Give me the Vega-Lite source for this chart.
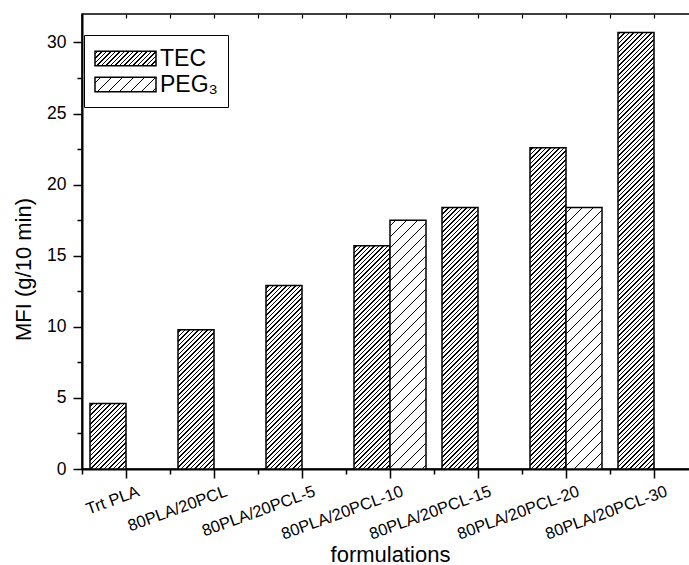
{
  "$schema": "https://vega.github.io/schema/vega-lite/v6.json",
  "width": 616,
  "height": 455,
  "autosize": {"type": "none"},
  "padding": {"left": 82, "top": 14, "right": -9, "bottom": 96},
  "background": "white",
  "params": [
    {"name": "tecStops", "value": [
{"offset":0.004,"color":"#fff"},{"offset":0.004,"color":"#000"},{"offset":0.007,"color":"#000"},{"offset":0.007,"color":"#fff"},
{"offset":0.013,"color":"#fff"},{"offset":0.013,"color":"#000"},{"offset":0.016,"color":"#000"},{"offset":0.016,"color":"#fff"},
{"offset":0.022,"color":"#fff"},{"offset":0.022,"color":"#000"},{"offset":0.025,"color":"#000"},{"offset":0.025,"color":"#fff"},
{"offset":0.031,"color":"#fff"},{"offset":0.031,"color":"#000"},{"offset":0.034,"color":"#000"},{"offset":0.034,"color":"#fff"},
{"offset":0.040,"color":"#fff"},{"offset":0.040,"color":"#000"},{"offset":0.043,"color":"#000"},{"offset":0.043,"color":"#fff"},
{"offset":0.049,"color":"#fff"},{"offset":0.049,"color":"#000"},{"offset":0.052,"color":"#000"},{"offset":0.052,"color":"#fff"},
{"offset":0.058,"color":"#fff"},{"offset":0.058,"color":"#000"},{"offset":0.061,"color":"#000"},{"offset":0.061,"color":"#fff"},
{"offset":0.067,"color":"#fff"},{"offset":0.067,"color":"#000"},{"offset":0.070,"color":"#000"},{"offset":0.070,"color":"#fff"},
{"offset":0.076,"color":"#fff"},{"offset":0.076,"color":"#000"},{"offset":0.079,"color":"#000"},{"offset":0.079,"color":"#fff"},
{"offset":0.085,"color":"#fff"},{"offset":0.085,"color":"#000"},{"offset":0.088,"color":"#000"},{"offset":0.088,"color":"#fff"},
{"offset":0.094,"color":"#fff"},{"offset":0.094,"color":"#000"},{"offset":0.097,"color":"#000"},{"offset":0.097,"color":"#fff"},
{"offset":0.103,"color":"#fff"},{"offset":0.103,"color":"#000"},{"offset":0.106,"color":"#000"},{"offset":0.106,"color":"#fff"},
{"offset":0.112,"color":"#fff"},{"offset":0.112,"color":"#000"},{"offset":0.115,"color":"#000"},{"offset":0.115,"color":"#fff"},
{"offset":0.121,"color":"#fff"},{"offset":0.121,"color":"#000"},{"offset":0.124,"color":"#000"},{"offset":0.124,"color":"#fff"},
{"offset":0.130,"color":"#fff"},{"offset":0.130,"color":"#000"},{"offset":0.133,"color":"#000"},{"offset":0.133,"color":"#fff"},
{"offset":0.139,"color":"#fff"},{"offset":0.139,"color":"#000"},{"offset":0.142,"color":"#000"},{"offset":0.142,"color":"#fff"},
{"offset":0.148,"color":"#fff"},{"offset":0.148,"color":"#000"},{"offset":0.151,"color":"#000"},{"offset":0.151,"color":"#fff"},
{"offset":0.157,"color":"#fff"},{"offset":0.157,"color":"#000"},{"offset":0.160,"color":"#000"},{"offset":0.160,"color":"#fff"},
{"offset":0.166,"color":"#fff"},{"offset":0.166,"color":"#000"},{"offset":0.169,"color":"#000"},{"offset":0.169,"color":"#fff"},
{"offset":0.175,"color":"#fff"},{"offset":0.175,"color":"#000"},{"offset":0.178,"color":"#000"},{"offset":0.178,"color":"#fff"},
{"offset":0.184,"color":"#fff"},{"offset":0.184,"color":"#000"},{"offset":0.187,"color":"#000"},{"offset":0.187,"color":"#fff"},
{"offset":0.193,"color":"#fff"},{"offset":0.193,"color":"#000"},{"offset":0.196,"color":"#000"},{"offset":0.196,"color":"#fff"},
{"offset":0.202,"color":"#fff"},{"offset":0.202,"color":"#000"},{"offset":0.205,"color":"#000"},{"offset":0.205,"color":"#fff"},
{"offset":0.211,"color":"#fff"},{"offset":0.211,"color":"#000"},{"offset":0.214,"color":"#000"},{"offset":0.214,"color":"#fff"},
{"offset":0.220,"color":"#fff"},{"offset":0.220,"color":"#000"},{"offset":0.223,"color":"#000"},{"offset":0.223,"color":"#fff"},
{"offset":0.229,"color":"#fff"},{"offset":0.229,"color":"#000"},{"offset":0.232,"color":"#000"},{"offset":0.232,"color":"#fff"},
{"offset":0.238,"color":"#fff"},{"offset":0.238,"color":"#000"},{"offset":0.241,"color":"#000"},{"offset":0.241,"color":"#fff"},
{"offset":0.247,"color":"#fff"},{"offset":0.247,"color":"#000"},{"offset":0.250,"color":"#000"},{"offset":0.250,"color":"#fff"},
{"offset":0.256,"color":"#fff"},{"offset":0.256,"color":"#000"},{"offset":0.259,"color":"#000"},{"offset":0.259,"color":"#fff"},
{"offset":0.265,"color":"#fff"},{"offset":0.265,"color":"#000"},{"offset":0.268,"color":"#000"},{"offset":0.268,"color":"#fff"},
{"offset":0.274,"color":"#fff"},{"offset":0.274,"color":"#000"},{"offset":0.277,"color":"#000"},{"offset":0.277,"color":"#fff"},
{"offset":0.283,"color":"#fff"},{"offset":0.283,"color":"#000"},{"offset":0.286,"color":"#000"},{"offset":0.286,"color":"#fff"},
{"offset":0.292,"color":"#fff"},{"offset":0.292,"color":"#000"},{"offset":0.295,"color":"#000"},{"offset":0.295,"color":"#fff"},
{"offset":0.301,"color":"#fff"},{"offset":0.301,"color":"#000"},{"offset":0.304,"color":"#000"},{"offset":0.304,"color":"#fff"},
{"offset":0.310,"color":"#fff"},{"offset":0.310,"color":"#000"},{"offset":0.313,"color":"#000"},{"offset":0.313,"color":"#fff"},
{"offset":0.319,"color":"#fff"},{"offset":0.319,"color":"#000"},{"offset":0.322,"color":"#000"},{"offset":0.322,"color":"#fff"},
{"offset":0.328,"color":"#fff"},{"offset":0.328,"color":"#000"},{"offset":0.331,"color":"#000"},{"offset":0.331,"color":"#fff"},
{"offset":0.337,"color":"#fff"},{"offset":0.337,"color":"#000"},{"offset":0.340,"color":"#000"},{"offset":0.340,"color":"#fff"},
{"offset":0.346,"color":"#fff"},{"offset":0.346,"color":"#000"},{"offset":0.349,"color":"#000"},{"offset":0.349,"color":"#fff"},
{"offset":0.355,"color":"#fff"},{"offset":0.355,"color":"#000"},{"offset":0.358,"color":"#000"},{"offset":0.358,"color":"#fff"},
{"offset":0.364,"color":"#fff"},{"offset":0.364,"color":"#000"},{"offset":0.367,"color":"#000"},{"offset":0.367,"color":"#fff"},
{"offset":0.373,"color":"#fff"},{"offset":0.373,"color":"#000"},{"offset":0.376,"color":"#000"},{"offset":0.376,"color":"#fff"},
{"offset":0.382,"color":"#fff"},{"offset":0.382,"color":"#000"},{"offset":0.385,"color":"#000"},{"offset":0.385,"color":"#fff"},
{"offset":0.391,"color":"#fff"},{"offset":0.391,"color":"#000"},{"offset":0.394,"color":"#000"},{"offset":0.394,"color":"#fff"},
{"offset":0.400,"color":"#fff"},{"offset":0.400,"color":"#000"},{"offset":0.403,"color":"#000"},{"offset":0.403,"color":"#fff"},
{"offset":0.409,"color":"#fff"},{"offset":0.409,"color":"#000"},{"offset":0.412,"color":"#000"},{"offset":0.412,"color":"#fff"},
{"offset":0.418,"color":"#fff"},{"offset":0.418,"color":"#000"},{"offset":0.421,"color":"#000"},{"offset":0.421,"color":"#fff"},
{"offset":0.427,"color":"#fff"},{"offset":0.427,"color":"#000"},{"offset":0.430,"color":"#000"},{"offset":0.430,"color":"#fff"},
{"offset":0.436,"color":"#fff"},{"offset":0.436,"color":"#000"},{"offset":0.439,"color":"#000"},{"offset":0.439,"color":"#fff"},
{"offset":0.445,"color":"#fff"},{"offset":0.445,"color":"#000"},{"offset":0.448,"color":"#000"},{"offset":0.448,"color":"#fff"},
{"offset":0.454,"color":"#fff"},{"offset":0.454,"color":"#000"},{"offset":0.457,"color":"#000"},{"offset":0.457,"color":"#fff"},
{"offset":0.463,"color":"#fff"},{"offset":0.463,"color":"#000"},{"offset":0.466,"color":"#000"},{"offset":0.466,"color":"#fff"},
{"offset":0.472,"color":"#fff"},{"offset":0.472,"color":"#000"},{"offset":0.475,"color":"#000"},{"offset":0.475,"color":"#fff"},
{"offset":0.481,"color":"#fff"},{"offset":0.481,"color":"#000"},{"offset":0.484,"color":"#000"},{"offset":0.484,"color":"#fff"},
{"offset":0.490,"color":"#fff"},{"offset":0.490,"color":"#000"},{"offset":0.493,"color":"#000"},{"offset":0.493,"color":"#fff"},
{"offset":0.499,"color":"#fff"},{"offset":0.499,"color":"#000"},{"offset":0.502,"color":"#000"},{"offset":0.502,"color":"#fff"},
{"offset":0.508,"color":"#fff"},{"offset":0.508,"color":"#000"},{"offset":0.511,"color":"#000"},{"offset":0.511,"color":"#fff"},
{"offset":0.517,"color":"#fff"},{"offset":0.517,"color":"#000"},{"offset":0.520,"color":"#000"},{"offset":0.520,"color":"#fff"},
{"offset":0.526,"color":"#fff"},{"offset":0.526,"color":"#000"},{"offset":0.529,"color":"#000"},{"offset":0.529,"color":"#fff"},
{"offset":0.535,"color":"#fff"},{"offset":0.535,"color":"#000"},{"offset":0.538,"color":"#000"},{"offset":0.538,"color":"#fff"},
{"offset":0.544,"color":"#fff"},{"offset":0.544,"color":"#000"},{"offset":0.547,"color":"#000"},{"offset":0.547,"color":"#fff"},
{"offset":0.553,"color":"#fff"},{"offset":0.553,"color":"#000"},{"offset":0.556,"color":"#000"},{"offset":0.556,"color":"#fff"},
{"offset":0.562,"color":"#fff"},{"offset":0.562,"color":"#000"},{"offset":0.565,"color":"#000"},{"offset":0.565,"color":"#fff"},
{"offset":0.571,"color":"#fff"},{"offset":0.571,"color":"#000"},{"offset":0.574,"color":"#000"},{"offset":0.574,"color":"#fff"},
{"offset":0.580,"color":"#fff"},{"offset":0.580,"color":"#000"},{"offset":0.583,"color":"#000"},{"offset":0.583,"color":"#fff"},
{"offset":0.589,"color":"#fff"},{"offset":0.589,"color":"#000"},{"offset":0.592,"color":"#000"},{"offset":0.592,"color":"#fff"},
{"offset":0.598,"color":"#fff"},{"offset":0.598,"color":"#000"},{"offset":0.601,"color":"#000"},{"offset":0.601,"color":"#fff"},
{"offset":0.607,"color":"#fff"},{"offset":0.607,"color":"#000"},{"offset":0.610,"color":"#000"},{"offset":0.610,"color":"#fff"},
{"offset":0.616,"color":"#fff"},{"offset":0.616,"color":"#000"},{"offset":0.619,"color":"#000"},{"offset":0.619,"color":"#fff"},
{"offset":0.625,"color":"#fff"},{"offset":0.625,"color":"#000"},{"offset":0.628,"color":"#000"},{"offset":0.628,"color":"#fff"},
{"offset":0.634,"color":"#fff"},{"offset":0.634,"color":"#000"},{"offset":0.637,"color":"#000"},{"offset":0.637,"color":"#fff"},
{"offset":0.643,"color":"#fff"},{"offset":0.643,"color":"#000"},{"offset":0.646,"color":"#000"},{"offset":0.646,"color":"#fff"},
{"offset":0.652,"color":"#fff"},{"offset":0.652,"color":"#000"},{"offset":0.655,"color":"#000"},{"offset":0.655,"color":"#fff"},
{"offset":0.661,"color":"#fff"},{"offset":0.661,"color":"#000"},{"offset":0.664,"color":"#000"},{"offset":0.664,"color":"#fff"},
{"offset":0.670,"color":"#fff"},{"offset":0.670,"color":"#000"},{"offset":0.673,"color":"#000"},{"offset":0.673,"color":"#fff"},
{"offset":0.679,"color":"#fff"},{"offset":0.679,"color":"#000"},{"offset":0.682,"color":"#000"},{"offset":0.682,"color":"#fff"},
{"offset":0.688,"color":"#fff"},{"offset":0.688,"color":"#000"},{"offset":0.691,"color":"#000"},{"offset":0.691,"color":"#fff"},
{"offset":0.697,"color":"#fff"},{"offset":0.697,"color":"#000"},{"offset":0.700,"color":"#000"},{"offset":0.700,"color":"#fff"},
{"offset":0.706,"color":"#fff"},{"offset":0.706,"color":"#000"},{"offset":0.709,"color":"#000"},{"offset":0.709,"color":"#fff"},
{"offset":0.715,"color":"#fff"},{"offset":0.715,"color":"#000"},{"offset":0.718,"color":"#000"},{"offset":0.718,"color":"#fff"},
{"offset":0.724,"color":"#fff"},{"offset":0.724,"color":"#000"},{"offset":0.727,"color":"#000"},{"offset":0.727,"color":"#fff"},
{"offset":0.733,"color":"#fff"},{"offset":0.733,"color":"#000"},{"offset":0.736,"color":"#000"},{"offset":0.736,"color":"#fff"},
{"offset":0.742,"color":"#fff"},{"offset":0.742,"color":"#000"},{"offset":0.745,"color":"#000"},{"offset":0.745,"color":"#fff"},
{"offset":0.751,"color":"#fff"},{"offset":0.751,"color":"#000"},{"offset":0.754,"color":"#000"},{"offset":0.754,"color":"#fff"},
{"offset":0.760,"color":"#fff"},{"offset":0.760,"color":"#000"},{"offset":0.763,"color":"#000"},{"offset":0.763,"color":"#fff"},
{"offset":0.769,"color":"#fff"},{"offset":0.769,"color":"#000"},{"offset":0.772,"color":"#000"},{"offset":0.772,"color":"#fff"},
{"offset":0.778,"color":"#fff"},{"offset":0.778,"color":"#000"},{"offset":0.781,"color":"#000"},{"offset":0.781,"color":"#fff"},
{"offset":0.787,"color":"#fff"},{"offset":0.787,"color":"#000"},{"offset":0.790,"color":"#000"},{"offset":0.790,"color":"#fff"},
{"offset":0.796,"color":"#fff"},{"offset":0.796,"color":"#000"},{"offset":0.799,"color":"#000"},{"offset":0.799,"color":"#fff"},
{"offset":0.805,"color":"#fff"},{"offset":0.805,"color":"#000"},{"offset":0.808,"color":"#000"},{"offset":0.808,"color":"#fff"},
{"offset":0.814,"color":"#fff"},{"offset":0.814,"color":"#000"},{"offset":0.817,"color":"#000"},{"offset":0.817,"color":"#fff"},
{"offset":0.823,"color":"#fff"},{"offset":0.823,"color":"#000"},{"offset":0.826,"color":"#000"},{"offset":0.826,"color":"#fff"},
{"offset":0.832,"color":"#fff"},{"offset":0.832,"color":"#000"},{"offset":0.835,"color":"#000"},{"offset":0.835,"color":"#fff"},
{"offset":0.841,"color":"#fff"},{"offset":0.841,"color":"#000"},{"offset":0.844,"color":"#000"},{"offset":0.844,"color":"#fff"},
{"offset":0.850,"color":"#fff"},{"offset":0.850,"color":"#000"},{"offset":0.853,"color":"#000"},{"offset":0.853,"color":"#fff"},
{"offset":0.859,"color":"#fff"},{"offset":0.859,"color":"#000"},{"offset":0.862,"color":"#000"},{"offset":0.862,"color":"#fff"},
{"offset":0.868,"color":"#fff"},{"offset":0.868,"color":"#000"},{"offset":0.871,"color":"#000"},{"offset":0.871,"color":"#fff"},
{"offset":0.877,"color":"#fff"},{"offset":0.877,"color":"#000"},{"offset":0.880,"color":"#000"},{"offset":0.880,"color":"#fff"},
{"offset":0.886,"color":"#fff"},{"offset":0.886,"color":"#000"},{"offset":0.889,"color":"#000"},{"offset":0.889,"color":"#fff"},
{"offset":0.895,"color":"#fff"},{"offset":0.895,"color":"#000"},{"offset":0.898,"color":"#000"},{"offset":0.898,"color":"#fff"},
{"offset":0.904,"color":"#fff"},{"offset":0.904,"color":"#000"},{"offset":0.907,"color":"#000"},{"offset":0.907,"color":"#fff"},
{"offset":0.913,"color":"#fff"},{"offset":0.913,"color":"#000"},{"offset":0.916,"color":"#000"},{"offset":0.916,"color":"#fff"},
{"offset":0.922,"color":"#fff"},{"offset":0.922,"color":"#000"},{"offset":0.925,"color":"#000"},{"offset":0.925,"color":"#fff"},
{"offset":0.931,"color":"#fff"},{"offset":0.931,"color":"#000"},{"offset":0.934,"color":"#000"},{"offset":0.934,"color":"#fff"},
{"offset":0.940,"color":"#fff"},{"offset":0.940,"color":"#000"},{"offset":0.943,"color":"#000"},{"offset":0.943,"color":"#fff"},
{"offset":0.949,"color":"#fff"},{"offset":0.949,"color":"#000"},{"offset":0.952,"color":"#000"},{"offset":0.952,"color":"#fff"},
{"offset":0.958,"color":"#fff"},{"offset":0.958,"color":"#000"},{"offset":0.961,"color":"#000"},{"offset":0.961,"color":"#fff"}
    ]},
    {"name": "pegStops", "value": [
{"offset":0.010,"color":"#fff"},{"offset":0.010,"color":"#000"},{"offset":0.013,"color":"#000"},{"offset":0.013,"color":"#fff"},
{"offset":0.032,"color":"#fff"},{"offset":0.032,"color":"#000"},{"offset":0.035,"color":"#000"},{"offset":0.035,"color":"#fff"},
{"offset":0.054,"color":"#fff"},{"offset":0.054,"color":"#000"},{"offset":0.057,"color":"#000"},{"offset":0.057,"color":"#fff"},
{"offset":0.076,"color":"#fff"},{"offset":0.076,"color":"#000"},{"offset":0.079,"color":"#000"},{"offset":0.079,"color":"#fff"},
{"offset":0.098,"color":"#fff"},{"offset":0.098,"color":"#000"},{"offset":0.101,"color":"#000"},{"offset":0.101,"color":"#fff"},
{"offset":0.120,"color":"#fff"},{"offset":0.120,"color":"#000"},{"offset":0.123,"color":"#000"},{"offset":0.123,"color":"#fff"},
{"offset":0.142,"color":"#fff"},{"offset":0.142,"color":"#000"},{"offset":0.145,"color":"#000"},{"offset":0.145,"color":"#fff"},
{"offset":0.164,"color":"#fff"},{"offset":0.164,"color":"#000"},{"offset":0.167,"color":"#000"},{"offset":0.167,"color":"#fff"},
{"offset":0.186,"color":"#fff"},{"offset":0.186,"color":"#000"},{"offset":0.189,"color":"#000"},{"offset":0.189,"color":"#fff"},
{"offset":0.208,"color":"#fff"},{"offset":0.208,"color":"#000"},{"offset":0.211,"color":"#000"},{"offset":0.211,"color":"#fff"},
{"offset":0.230,"color":"#fff"},{"offset":0.230,"color":"#000"},{"offset":0.233,"color":"#000"},{"offset":0.233,"color":"#fff"},
{"offset":0.252,"color":"#fff"},{"offset":0.252,"color":"#000"},{"offset":0.255,"color":"#000"},{"offset":0.255,"color":"#fff"},
{"offset":0.274,"color":"#fff"},{"offset":0.274,"color":"#000"},{"offset":0.277,"color":"#000"},{"offset":0.277,"color":"#fff"},
{"offset":0.296,"color":"#fff"},{"offset":0.296,"color":"#000"},{"offset":0.299,"color":"#000"},{"offset":0.299,"color":"#fff"},
{"offset":0.318,"color":"#fff"},{"offset":0.318,"color":"#000"},{"offset":0.321,"color":"#000"},{"offset":0.321,"color":"#fff"},
{"offset":0.340,"color":"#fff"},{"offset":0.340,"color":"#000"},{"offset":0.343,"color":"#000"},{"offset":0.343,"color":"#fff"},
{"offset":0.362,"color":"#fff"},{"offset":0.362,"color":"#000"},{"offset":0.365,"color":"#000"},{"offset":0.365,"color":"#fff"},
{"offset":0.384,"color":"#fff"},{"offset":0.384,"color":"#000"},{"offset":0.387,"color":"#000"},{"offset":0.387,"color":"#fff"},
{"offset":0.406,"color":"#fff"},{"offset":0.406,"color":"#000"},{"offset":0.409,"color":"#000"},{"offset":0.409,"color":"#fff"},
{"offset":0.428,"color":"#fff"},{"offset":0.428,"color":"#000"},{"offset":0.431,"color":"#000"},{"offset":0.431,"color":"#fff"},
{"offset":0.450,"color":"#fff"},{"offset":0.450,"color":"#000"},{"offset":0.453,"color":"#000"},{"offset":0.453,"color":"#fff"},
{"offset":0.472,"color":"#fff"},{"offset":0.472,"color":"#000"},{"offset":0.475,"color":"#000"},{"offset":0.475,"color":"#fff"},
{"offset":0.494,"color":"#fff"},{"offset":0.494,"color":"#000"},{"offset":0.497,"color":"#000"},{"offset":0.497,"color":"#fff"},
{"offset":0.516,"color":"#fff"},{"offset":0.516,"color":"#000"},{"offset":0.519,"color":"#000"},{"offset":0.519,"color":"#fff"},
{"offset":0.538,"color":"#fff"},{"offset":0.538,"color":"#000"},{"offset":0.541,"color":"#000"},{"offset":0.541,"color":"#fff"},
{"offset":0.560,"color":"#fff"},{"offset":0.560,"color":"#000"},{"offset":0.563,"color":"#000"},{"offset":0.563,"color":"#fff"},
{"offset":0.582,"color":"#fff"},{"offset":0.582,"color":"#000"},{"offset":0.585,"color":"#000"},{"offset":0.585,"color":"#fff"},
{"offset":0.604,"color":"#fff"},{"offset":0.604,"color":"#000"},{"offset":0.607,"color":"#000"},{"offset":0.607,"color":"#fff"},
{"offset":0.626,"color":"#fff"},{"offset":0.626,"color":"#000"},{"offset":0.629,"color":"#000"},{"offset":0.629,"color":"#fff"},
{"offset":0.648,"color":"#fff"},{"offset":0.648,"color":"#000"},{"offset":0.651,"color":"#000"},{"offset":0.651,"color":"#fff"},
{"offset":0.670,"color":"#fff"},{"offset":0.670,"color":"#000"},{"offset":0.673,"color":"#000"},{"offset":0.673,"color":"#fff"}
    ]}
  ],
  "data": {
    "values": [
      {"formulation": "Trt PLA", "series": "TEC", "MFI": 4.6},
      {"formulation": "80PLA/20PCL", "series": "TEC", "MFI": 9.8},
      {"formulation": "80PLA/20PCL-5", "series": "TEC", "MFI": 12.9},
      {"formulation": "80PLA/20PCL-10", "series": "TEC", "MFI": 15.7},
      {"formulation": "80PLA/20PCL-10", "series": "PEG₃", "MFI": 17.5},
      {"formulation": "80PLA/20PCL-15", "series": "TEC", "MFI": 18.4},
      {"formulation": "80PLA/20PCL-20", "series": "TEC", "MFI": 22.6},
      {"formulation": "80PLA/20PCL-20", "series": "PEG₃", "MFI": 18.4},
      {"formulation": "80PLA/20PCL-30", "series": "TEC", "MFI": 30.7}
    ]
  },
  "layer": [
    {
      "mark": {"type": "bar", "strokeWidth": 1.5},
      "encoding": {
        "x": {
          "field": "formulation", "type": "nominal",
          "scale": {"domain": ["Trt PLA", "80PLA/20PCL", "80PLA/20PCL-5", "80PLA/20PCL-10", "80PLA/20PCL-15", "80PLA/20PCL-20", "80PLA/20PCL-30"], "paddingInner": 0.181818, "paddingOuter": 0.090909},
          "axis": {
            "orient": "bottom", "labelAngle": -20, "labelAlign": "right", "labelBaseline": "top",
            "labelOffset": 10, "labelPadding": 5, "tickSize": 9, "tickWidth": 1.5, "domainWidth": 2,
            "labelFontSize": 16.5, "labelLimit": 300,
            "title": "formulations", "titleFontSize": 22, "titleX": 308, "titleY": 92, "titleBaseline": "alphabetic"
          }
        },
        "xOffset": {"field": "series", "type": "nominal", "scale": {"domain": ["TEC", "PEG₃"], "paddingInner": 0, "paddingOuter": 0}},
        "y": {
          "field": "MFI", "type": "quantitative",
          "scale": {"domain": [0, 32], "nice": false, "zero": true},
          "axis": {
            "orient": "left",
            "values": [0, 2.5, 5, 7.5, 10, 12.5, 15, 17.5, 20, 22.5, 25, 27.5, 30],
            "labelExpr": "datum.value % 5 === 0 ? datum.label : ''",
            "tickSize": {"condition": {"test": "datum.value % 5 !== 0", "value": 5}, "value": 9},
            "tickWidth": 1.5, "domainWidth": 2, "labelPadding": 7, "labelFontSize": 17.5,
            "title": "MFI (g/10 min)", "titleFontSize": 22, "titleX": -52, "titleY": 255,
            "titleAngle": 270, "titleBaseline": "alphabetic", "titleAlign": "center"
          }
        },
        "stroke": {
          "field": "series", "type": "nominal",
          "scale": {"domain": ["TEC", "PEG₃"], "range": ["black", "black"]},
          "legend": {
            "title": null,
            "orient": "none", "legendX": 2, "legendY": 21,
            "strokeColor": "black", "padding": 10, "rowPadding": 0,
            "symbolType": "M-1,-0.58L3.88,-0.58L3.88,0.58L-1,0.58Z", "symbolSize": 625,
            "symbolStrokeWidth": 1.5, "labelFontSize": 23, "labelOffset": 39, "labelColor": "black"
          }
        },
        "fill": {"value": {"expr": "isValid(datum.MFI) ? {gradient: 'linear', x1: 0, y1: 0, x2: 500*36/(1296+pow(scale('y',0)-scale('y',datum.MFI),2)), y2: 500*(scale('y',0)-scale('y',datum.MFI))/(1296+pow(scale('y',0)-scale('y',datum.MFI),2)), stops: datum.series === 'TEC' ? tecStops : pegStops} : {gradient: 'linear', x1: 0, y1: 0, x2: 7.758, y2: 1.844, stops: datum.value === 'TEC' ? tecStops : pegStops}"}}
      }
    },
    {
      "mark": {"type": "rule", "opacity": 0},
      "encoding": {
        "x": {
          "field": "formulation", "type": "nominal",
          "scale": {"domain": ["Trt PLA", "80PLA/20PCL", "80PLA/20PCL-5", "80PLA/20PCL-10", "80PLA/20PCL-15", "80PLA/20PCL-20", "80PLA/20PCL-30"], "paddingInner": 0.181818, "paddingOuter": 0.090909},
          "axis": {"orient": "bottom", "labels": false, "domain": false, "tickSize": 5, "tickWidth": 1.5, "tickOffset": -44, "title": null}
        }
      }
    },
    {
      "mark": {"type": "rule", "opacity": 0},
      "encoding": {
        "x": {
          "field": "formulation", "type": "nominal",
          "scale": {"domain": ["Trt PLA", "80PLA/20PCL", "80PLA/20PCL-5", "80PLA/20PCL-10", "80PLA/20PCL-15", "80PLA/20PCL-20", "80PLA/20PCL-30"], "paddingInner": 0.181818, "paddingOuter": 0.090909},
          "axis": {"orient": "top", "labels": false, "domain": false, "tickSize": -4, "tickWidth": 1.2, "title": null}
        }
      }
    },
    {
      "mark": {"type": "rule", "opacity": 0},
      "encoding": {
        "x": {
          "field": "formulation", "type": "nominal",
          "scale": {"domain": ["Trt PLA", "80PLA/20PCL", "80PLA/20PCL-5", "80PLA/20PCL-10", "80PLA/20PCL-15", "80PLA/20PCL-20", "80PLA/20PCL-30"], "paddingInner": 0.181818, "paddingOuter": 0.090909},
          "axis": {"orient": "top", "labels": false, "domain": false, "tickSize": -4, "tickWidth": 1.2, "tickOffset": -44, "title": null}
        }
      }
    }
  ],
  "resolve": {"axis": {"x": "independent"}},
  "config": {
    "view": {"stroke": "black", "strokeWidth": 1.5},
    "font": "Liberation Sans",
    "axis": {
      "grid": false, "domainColor": "black", "tickColor": "black", "labelColor": "black", "titleColor": "black",
      "labelFont": "Liberation Sans", "titleFont": "Liberation Sans", "titleFontWeight": "normal"
    },
    "legend": {"labelFont": "Liberation Sans"}
  }
}
